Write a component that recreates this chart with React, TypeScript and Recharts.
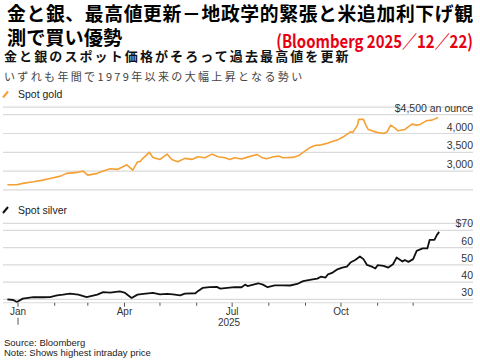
import React from "react";
import { LineChart, Line, XAxis, YAxis, CartesianGrid } from "recharts";

// Day offsets from Jan 1, 2025
const goldDays = [-9, -1, 4, 13, 21, 27, 36, 41, 50, 55, 59, 67, 72, 78, 84, 92, 97, 101, 103, 106, 111, 114, 120, 126, 130, 135, 141, 147, 152, 158, 164, 169, 175, 179, 183, 189, 194, 202, 206, 210, 216, 220, 224, 232, 237, 241, 247, 251, 255, 261, 265, 271, 275, 281, 283, 287, 288, 292, 294, 296, 300, 304, 309, 312, 315, 319, 321, 327, 333, 337, 340, 345, 350, 352, 355];
const goldPrices = [2636, 2636, 2673, 2716, 2760, 2805, 2867, 2940, 2965, 3000, 2894, 2940, 3000, 3061, 3045, 3168, 3027, 3247, 3247, 3354, 3500, 3364, 3310, 3452, 3311, 3247, 3338, 3311, 3380, 3354, 3452, 3380, 3354, 3311, 3354, 3320, 3372, 3444, 3364, 3327, 3380, 3399, 3354, 3364, 3407, 3500, 3630, 3683, 3690, 3737, 3779, 3843, 3912, 4045, 4029, 4223, 4375, 4375, 4223, 4109, 4064, 4029, 4003, 4045, 4223, 4136, 4072, 4109, 4250, 4223, 4242, 4338, 4356, 4383, 4428];

const silverDays = [-9, -4, -1, 4, 13, 21, 27, 33, 38, 44, 51, 58, 67, 72, 78, 86, 90, 96, 101, 106, 114, 120, 126, 131, 137, 141, 150, 152, 156, 162, 168, 171, 177, 183, 189, 192, 194, 203, 207, 211, 217, 224, 230, 236, 241, 249, 253, 256, 260, 262, 266, 270, 274, 278, 281, 285, 289, 292, 295, 299, 302, 304, 309, 313, 317, 320, 325, 327, 330, 334, 337, 342, 346, 348, 352, 354, 356];
const silverPrices = [30.0, 29.6, 28.4, 30.4, 31.2, 31.2, 31.3, 32.3, 32.7, 33.3, 32.7, 31.3, 32.7, 34.2, 33.9, 34.6, 33.9, 30.8, 32.7, 33.1, 33.7, 32.9, 33.1, 32.9, 32.3, 33.3, 33.5, 34.7, 36.6, 37.0, 37.2, 36.2, 36.6, 37.0, 37.0, 38.5, 37.7, 39.3, 38.5, 37.0, 38.1, 38.1, 38.0, 38.9, 40.5, 41.5, 42.0, 43.1, 42.6, 44.5, 45.5, 47.4, 48.4, 49.0, 51.3, 52.8, 54.8, 53.3, 49.9, 49.0, 47.8, 49.8, 49.4, 48.4, 50.3, 54.2, 51.9, 52.8, 51.7, 53.3, 58.1, 59.5, 59.5, 64.5, 64.5, 67.2, 69.1];

const monthTicks = [0, 31, 59, 90, 120, 151, 181, 212, 243, 273, 304, 334];
const monthLabels: Record<number, string> = { 0: "Jan", 90: "Apr", 181: "Jul", 273: "Oct" };
const goldTicks = [3000, 3500, 4000, 4500];
const silverTicks = [30, 40, 50, 60, 70];

const goldData = goldDays.map((d, i) => ({ d, v: goldPrices[i] }));
const silverData = silverDays.map((d, i) => ({ d, v: silverPrices[i] }));

const X_DOMAIN: [number, number] = [-12.7, 384.6];
const LATIN = "'Liberation Sans', Arial, sans-serif";
const JP = "'Noto Sans CJK JP', sans-serif";

const goldFmt = (v: number) => (v === 4500 ? "$4,500 an ounce" : v.toLocaleString("en-US"));
const silverFmt = (v: number) => (v === 70 ? "$70" : String(v));

const makeYTick = (fmt: (v: number) => string) => (props: any) => {
  const { x, y, payload } = props;
  return (
    <text x={x} y={y - 3} textAnchor="end" fontSize={10.5} fontFamily={LATIN} fill="#333">
      {fmt(payload.value)}
    </text>
  );
};

const MonthTick = (props: any) => {
  const { x, y, payload } = props;
  const v = payload.value as number;
  const label = monthLabels[v];
  return (
    <g>
      <line x1={x} x2={x} y1={y} y2={y + (label ? 4 : 3)} stroke="#555" strokeWidth={1} />
      {label && (
        <text x={x} y={y + 12} textAnchor="middle" fontSize={10} fontFamily={LATIN} fill="#333">
          {label}
        </text>
      )}
      {v === 0 && <line x1={x} x2={x} y1={y + 15} y2={y + 22} stroke="#555" strokeWidth={1} />}
    </g>
  );
};

const abs = (style: React.CSSProperties): React.CSSProperties => ({ position: "absolute", whiteSpace: "nowrap", margin: 0, ...style });

export default function App() {
  return (
    <div style={{ position: "fixed", left: 0, top: 0, width: 480, height: 360, background: "#fff", overflow: "hidden" }}>
      <div style={abs({ left: 7, top: 2.5, width: 466, textAlign: "justify", textAlignLast: "justify", whiteSpace: "normal", fontFamily: JP, fontWeight: 700, fontSize: 18.8, lineHeight: "20px", color: "#000" })}>
        金と銀、最高値更新－地政学的緊張と米追加利下げ観
      </div>
      <div style={abs({ left: 7, top: 26.5, fontFamily: JP, fontWeight: 700, fontSize: 19.2, lineHeight: "20px", color: "#000" })}>
        測で買い優勢
      </div>
      <div style={abs({ right: 7, top: 30.5, fontFamily: JP, fontWeight: 700, fontSize: 18, lineHeight: "18px", color: "#e60012", transform: "scaleX(0.83)", transformOrigin: "right center" })}>
        (Bloomberg 2025／12／22)
      </div>
      <div style={abs({ left: 4, top: 49, fontFamily: JP, fontWeight: 700, fontSize: 13, letterSpacing: 2.1, lineHeight: "14px", color: "#111" })}>
        金と銀のスポット価格がそろって過去最高値を更新
      </div>
      <div style={abs({ left: 4, top: 69, fontFamily: JP, fontWeight: 400, fontSize: 11, letterSpacing: 2.35, lineHeight: "14px", color: "#444" })}>
        いずれも年間で1979年以来の大幅上昇となる勢い
      </div>

      <svg style={abs({ left: 0, top: 0 })} width={480} height={360}>
        <line x1={3} y1={97.5} x2={8} y2={91.5} stroke="#f5a033" strokeWidth={2} />
        <line x1={3} y1={213} x2={8} y2={207} stroke="#111" strokeWidth={2} />
      </svg>
      <div style={abs({ left: 18, top: 87.5, fontFamily: LATIN, fontSize: 10.5, lineHeight: "12px", color: "#222" })}>Spot gold</div>
      <div style={abs({ left: 18, top: 204, fontFamily: LATIN, fontSize: 10.5, lineHeight: "12px", color: "#222" })}>Spot silver</div>

      <div style={abs({ left: 0, top: 0 })}>
        <LineChart width={480} height={200} data={goldData} margin={{ top: 107.2, right: 6, bottom: 10.1, left: 3 }}>
          <CartesianGrid vertical={false} stroke="#dadada" strokeWidth={1.2} />
          <XAxis dataKey="d" type="number" domain={X_DOMAIN} allowDataOverflow hide />
          <YAxis
            orientation="right"
            width={1}
            type="number"
            domain={[2500, 4700]}
            allowDataOverflow
            ticks={goldTicks}
            interval={0}
            axisLine={false}
            tickLine={false}
            tickSize={0}
            tickMargin={0}
            tick={makeYTick(goldFmt)}
          />
          <Line dataKey="v" stroke="#f5a033" strokeWidth={1.6} dot={false} isAnimationActive={false} strokeLinejoin="round" />
        </LineChart>
      </div>

      <div style={abs({ left: 0, top: 0 })}>
        <LineChart width={480} height={360} data={silverData} margin={{ top: 223.4, right: 6, bottom: 27.25, left: 3 }}>
          <CartesianGrid vertical={false} stroke="#dadada" strokeWidth={1.2} />
          <XAxis
            dataKey="d"
            type="number"
            domain={X_DOMAIN}
            allowDataOverflow
            ticks={monthTicks}
            interval={0}
            height={30}
            axisLine={false}
            tickLine={false}
            tickSize={0}
            tickMargin={0}
            tick={<MonthTick />}
          />
          <YAxis
            orientation="right"
            width={1}
            type="number"
            domain={[28, 74]}
            allowDataOverflow
            ticks={silverTicks}
            interval={0}
            axisLine={false}
            tickLine={false}
            tickSize={0}
            tickMargin={0}
            tick={makeYTick(silverFmt)}
          />
          <Line dataKey="v" stroke="#111" strokeWidth={1.8} dot={false} isAnimationActive={false} strokeLinejoin="round" />
        </LineChart>
      </div>

      <div style={abs({ left: 210, width: 38, textAlign: "center", top: 317, fontFamily: LATIN, fontSize: 10, lineHeight: "12px", color: "#333" })}>2025</div>
      <div style={abs({ left: 4, top: 336.5, fontFamily: LATIN, fontSize: 9.5, lineHeight: "11px", color: "#222" })}>Source: Bloomberg</div>
      <div style={abs({ left: 4, top: 346.5, fontFamily: LATIN, fontSize: 9.5, lineHeight: "11px", color: "#222" })}>Note: Shows highest intraday price</div>
    </div>
  );
}
